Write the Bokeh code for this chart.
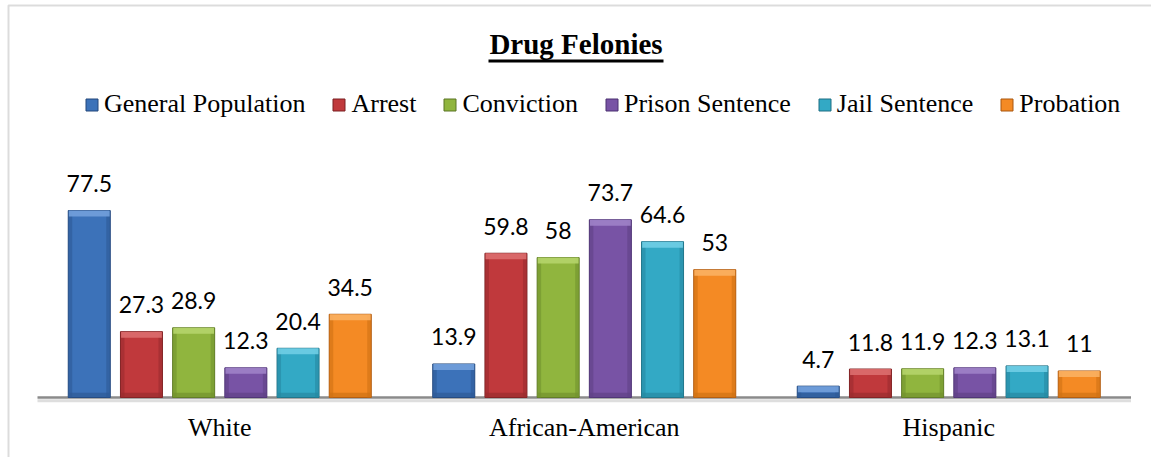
from bokeh.plotting import figure
from bokeh.models import ColumnDataSource, Range1d, Legend, LegendItem, Label, BoxAnnotation
from bokeh.core.properties import value
from bokeh.embed import file_html
from bokeh.resources import INLINE

# ---------------- data ----------------
categories = ["White", "African-American", "Hispanic"]
series_names = ["General Population", "Arrest", "Conviction",
                "Prison Sentence", "Jail Sentence", "Probation"]
general_population = [77.5, 13.9, 4.7]
arrest = [27.3, 59.8, 11.8]
conviction = [28.9, 58, 11.9]
prison_sentence = [12.3, 73.7, 12.3]
jail_sentence = [20.4, 64.6, 13.1]
probation = [34.5, 53, 11]
title_text = "Drug Felonies"

series_values = [general_population, arrest, conviction,
                 prison_sentence, jail_sentence, probation]

# ---------------- style ----------------
fills = ["#3c72b9", "#c0393c", "#90b53e", "#7853a5", "#33a9c5", "#f48a24"]
edges = ["#23467a", "#7a2022", "#5a7424", "#4a3070", "#1f6f83", "#a9560f"]
lights = ["#72a0dc", "#dc6e6e", "#b5d46a", "#9f82c8", "#6fcde4", "#fbb062"]
darks = ["#2d5a96", "#9a2c2e", "#72922e", "#5f4186", "#2689a1", "#cf7214"]

W, H = 1151, 457
PX_PER_CAT = 364.5
LEFT_PX = 37
BASE_PX = 397          # baseline distance from top
PX_PER_UNIT = 2.412

x_start = -LEFT_PX / PX_PER_CAT
x_end = (W - LEFT_PX) / PX_PER_CAT
y_start = -(H - BASE_PX) / PX_PER_UNIT
y_end = BASE_PX / PX_PER_UNIT

step = 0.1432
bar_w = 0.1152
bevel = 6 / PX_PER_UNIT
side = 4 / PX_PER_CAT

p = figure(width=W, height=H, output_backend="svg", toolbar_location=None,
           x_range=Range1d(x_start, x_end), y_range=Range1d(y_start, y_end),
           x_axis_location=None, y_axis_location=None, min_border=0)
p.grid.visible = False
p.xgrid.grid_line_color = None
p.ygrid.grid_line_color = None
p.outline_line_color = None
p.background_fill_color = "white"
p.border_fill_color = "white"

# axis baseline with soft shadow
p.segment(x0=[0], y0=[-1.3], x1=[len(categories)], y1=[-1.3],
          line_color="#dedede", line_width=3)
p.segment(x0=[0], y0=[0], x1=[len(categories)], y1=[0],
          line_color="#8a8a8a", line_width=2.5)

items = []
for j, (name, vals) in enumerate(zip(series_names, series_values)):
    xs = [i + 0.5 + (j - 2.5) * step for i in range(len(categories))]
    src = ColumnDataSource(dict(
        x=xs, top=vals,
        strip_bottom=[max(v - bevel, 0) for v in vals],
        base_top=[min(bevel * 0.8, v) for v in vals],
        left_x=[x - bar_w / 2 + side / 2 for x in xs],
        right_x=[x + bar_w / 2 - side / 2 for x in xs],
        label=[f"{v:g}" for v in vals],
    ))
    r = p.vbar(x="x", top="top", bottom=0, width=bar_w, source=src,
               fill_color=fills[j], line_color=edges[j], line_width=1)
    # bevel shading
    p.vbar(x="left_x", top="top", bottom=0, width=side, source=src,
           fill_color=darks[j], line_color=None, fill_alpha=0.6)
    p.vbar(x="right_x", top="top", bottom=0, width=side, source=src,
           fill_color=darks[j], line_color=None, fill_alpha=0.6)
    p.vbar(x="x", top="base_top", bottom=0, width=bar_w * 0.97, source=src,
           fill_color=darks[j], line_color=None, fill_alpha=0.7)
    p.vbar(x="x", top="top", bottom="strip_bottom", width=bar_w * 0.97, source=src,
           fill_color=lights[j], line_color=None, fill_alpha=0.9)
    p.text(x="x", y="top", text="label", source=src,
           text_align="center", text_baseline="alphabetic", y_offset=-27,
           text_font=value("Lato"), text_font_size="23px", text_color="#000000")
    items.append(LegendItem(label=name, renderers=[r]))

# category labels
p.text(x=[i + 0.5 for i in range(len(categories))], y=[0] * len(categories),
       text=categories, text_align="center", text_baseline="alphabetic",
       y_offset=30, text_font=value("Liberation Serif"), text_font_size="26px",
       text_color="#000000")

legend = Legend(items=items, orientation="horizontal", location=(84, 338),
                glyph_width=15, glyph_height=15, label_standoff=5, spacing=26,
                padding=0, margin=0, border_line_color=None,
                background_fill_alpha=0,
                label_text_font="Liberation Serif", label_text_font_size="26px",
                label_text_color="#000000")
p.add_layout(legend)

title = Label(x=W / 2, y=H - 43, x_units="screen", y_units="screen",
              text=title_text, text_align="center", text_baseline="alphabetic",
              text_font="Liberation Serif", text_font_style="bold",
              text_font_size="29px", text_color="#000000")
p.add_layout(title)
p.add_layout(BoxAnnotation(left=488, right=663, bottom=H - 62, top=H - 59,
                           left_units="screen", right_units="screen",
                           top_units="screen", bottom_units="screen",
                           fill_color="#000000", fill_alpha=1, line_color=None))

# chart-area border (left and top visible)
p.add_layout(BoxAnnotation(left=8, right=W + 50, bottom=-50, top=H - 5,
                           left_units="screen", right_units="screen",
                           top_units="screen", bottom_units="screen",
                           fill_alpha=0, line_color="#8c8c8c", line_width=2))

open("out.html", "w").write(file_html(p, INLINE))
